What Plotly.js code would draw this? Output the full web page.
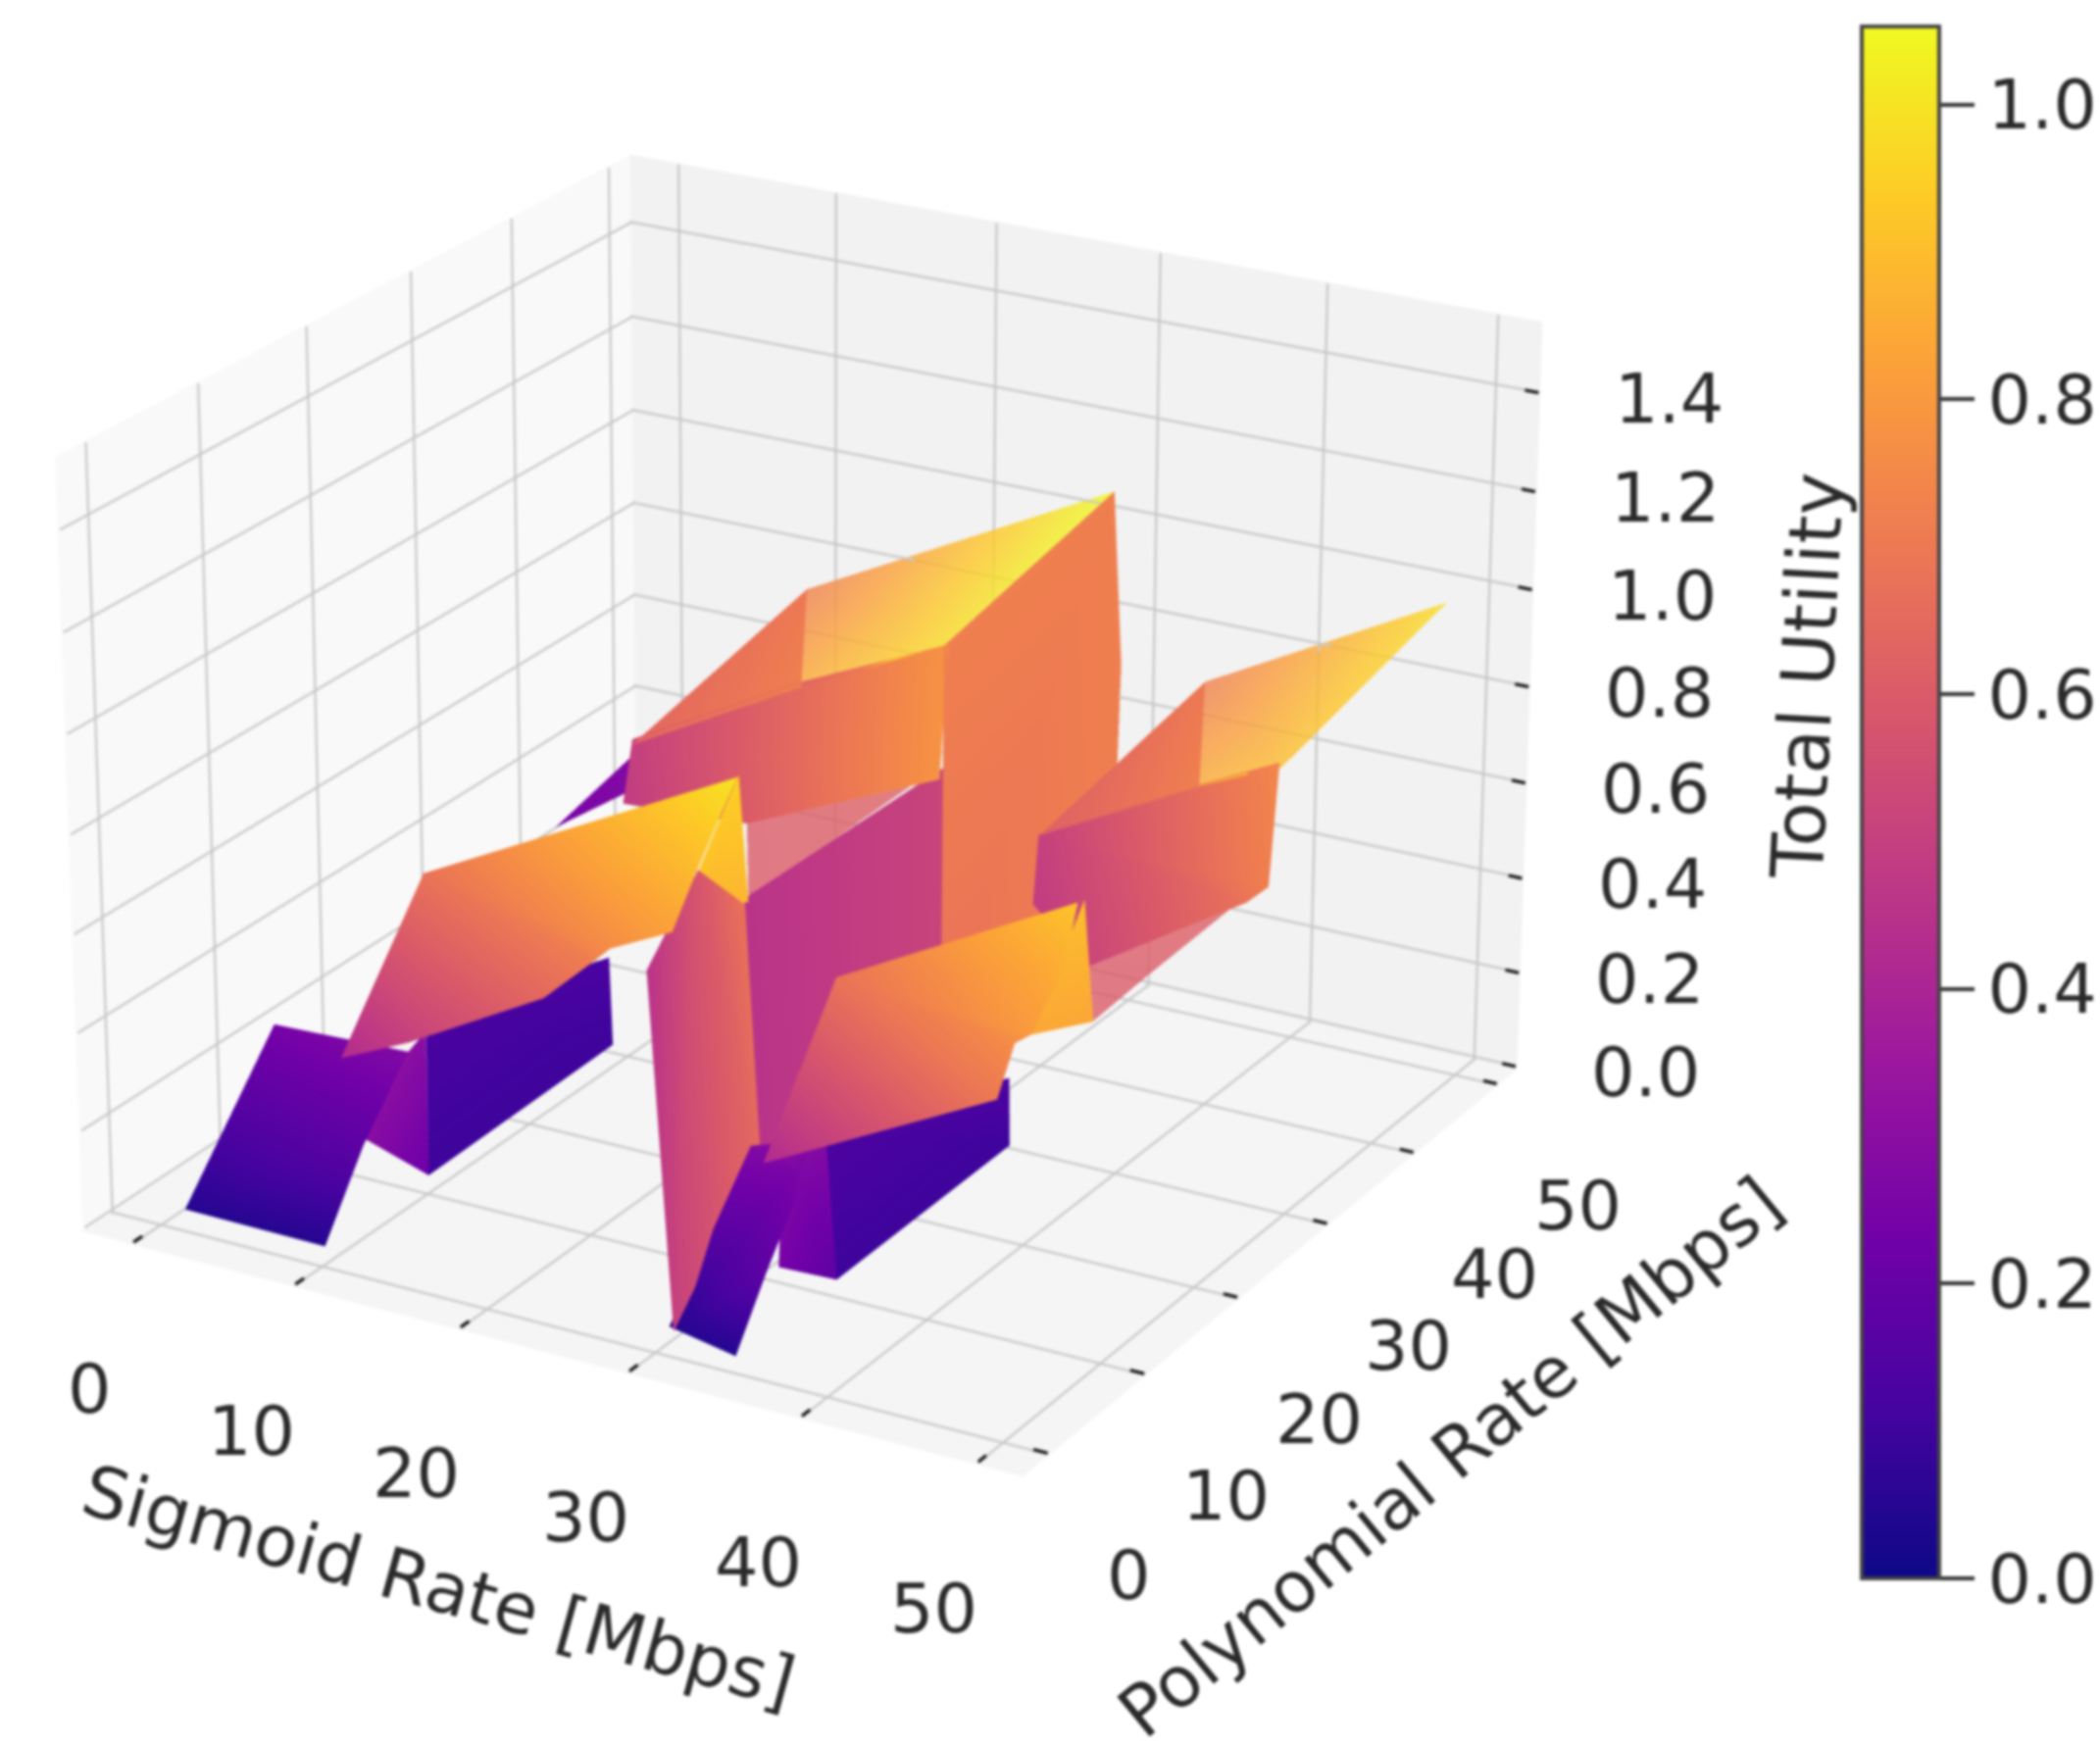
<!DOCTYPE html>
<html><head><meta charset="utf-8"><script src="https://cdn.plot.ly/plotly-3.0.1.min.js"></script>
<style>html,body{margin:0;padding:0;background:#fff;overflow:hidden}#g{filter:blur(1.4px)}</style></head><body>
<div id="g" style="width:2142px;height:1781px"></div>
<script>
const sigmoidTicks=[0,10,20,30,40,50];
const polynomialTicks=[0,10,20,30,40,50];
const utilityTicks=[0,.2,.4,.6,.8,1,1.2,1.4];
const colorbarTicks=[0,.2,.4,.6,.8,1];
const colorbarLabels=['0.0','0.2','0.4','0.6','0.8','1.0'];
const sigmoidRange=[-3.2,52.5],polynomialRange=[-2.5,52.5],utilityRange=[-.01,1.54];
// solid patches of the surface: sigmoid rate, polynomial rate, utility, colour value
const solidSigmoid=[[28.1,27.8,26.3,27.7],[8,20.4,27.9,26.8,19.4,8.8],[26.2,24.3,24.9,24.7,26],[32,33.9,31.7,31.2,29.6],[29.2,32.9,31.4,31],[12.4,29.3,31.7,33.2,30.2,15.7,8.7],[49.3,51.7,49.8,51.1],[36.6,49.2,51.1,51.3,51.1,50.6,35.5],[10.8,10.3,10.3,10.6],[9.5,10.6,10,10.6],[1.9,10.6,9.9,10.6,.6],[33.8,36.2,35.1,35.3],[33.7,34.3,35.3,32],[30.7,35.3,34.7,34.7,32.1],[33.4,45.2,48.9,50,48.5,40.9,33],[.4,.8,3.3],[8.4,10.3,20.8],[33.5,35.7,45.3]];
const solidPolynomial=[[51.1,33,35.6,54.2],[34,30.9,33.3,34.4,27,31.7],[37,18.9,16.9,18.2,38],[1.1,2.4,7.5,-.2,.1],[9.7,4.4,2.6,2.8],[6.5,9.4,1.7,-4.7,-3.7,-.2,4.1],[9,5.6,2.7,3.7],[6.7,8.5,3.7,.1,-1.2,-2,1.4],[8.9,27.7,28,9.2],[4.9,7.5,10.1,9.2],[-.5,-.6,4.2,7.5,10],[10.3,25.3,27.4,9],[6.4,9.5,9,8.8],[.2,-1,3,8.3,5.9],[33.3,28.9,30.5,27.4,27.9,25,33.5],[38.2,45.6,41],[33.3,48.7,30.2],[33.2,47.5,28.6]];
const solidUtility=[[1.05,.95,.1,.2],[.6,.85,.95,.65,.6,.5],[.65,.6,.6,.05,.05],[.95,.88,.3,.05,.75],[1,.85,.85,.92],[.72,1,.95,.85,.8,.5,.35],[.92,.75,.75,.88],[.7,.92,.88,.8,.8,.7,.4],[.38,.24,.05,.05],[.18,.33,.33,.05],[.05,.05,.18,.33,.27],[.33,.23,.05,.05],[.36,.36,.05,.05],[.05,.05,.15,.34,.34],[.6,.85,.9,.7,.65,.5,.45],[.3,.36,.36],[.6,.75,.85],[.6,.75,.85]];
const solidColor=[[.72,.72,.68,.72],[.5,.62,.78,.78,.6,.48],[.52,.45,.45,.45,.52],[.58,.68,.65,.5,.45],[.95,.88,.88,.92],[.68,1,.9,.78,.72,.5,.42],[.9,.84,.84,.88],[.68,.92,.86,.8,.76,.7,.42],[.13,.13,.1,.1],[.3,.32,.3,.22],[.05,.05,.18,.28,.25],[.14,.14,.1,.1],[.3,.3,.18,.25],[.05,.05,.18,.3,.28],[.5,.62,.74,.72,.68,.52,.48],[.25,.28,.28],[.64,.7,.72],[.62,.7,.72]];
// see-through patches
const glassSigmoid=[[10.3,28.1,27.8,20.8],[18.8,25.9,24.5],[35.7,47.9,49.3,45.3],[40.7,48.1,44.1,44.4]];
const glassPolynomial=[[48.7,51.1,33,30.2],[27.9,35.2,18.5],[47.5,51.6,29.9,28.6],[25.3,28.6,25.4,19.2]];
const glassUtility=[[.75,1.05,.95,.85],[.6,.65,.6],[.75,.95,.9,.85],[.5,.65,.5,.5]];
const glassColor=[[.72,1.05,.98,.85],[.6,.62,.6],[.72,.98,.9,.85],[.6,.62,.6,.6]];
const plasma=[[0,'#0d0887'],[.111,'#46039f'],[.222,'#7201a8'],[.333,'#9c179e'],[.444,'#bd3786'],[.556,'#d8576b'],[.667,'#ed7953'],[.778,'#fb9f3a'],[.889,'#fdca26'],[1,'#f0f921']];
const r=8,FOV=0.1809;
const dom={x:[0,.776],y:[.112,1]};
const xr=sigmoidRange,yr=polynomialRange,zr=utilityRange;
function flat(xs,ys,zs,cs){const X=[],Y=[],Z=[],C=[],I=[],J=[],K=[];xs.forEach((p,pi)=>{const b=X.length;p.forEach((v,n)=>{X.push(v);Y.push(ys[pi][n]);Z.push(zs[pi][n]);C.push(cs[pi][n]);});for(let n=1;n<p.length-1;n++){I.push(b);J.push(b+n);K.push(b+n+1);}});return {X,Y,Z,C,I,J,K};}
const light={ambient:1,diffuse:0,specular:0,roughness:1,fresnel:0};
const cb={x:1899/2142,xanchor:'left',xpad:0,ypad:0,y:(1781-1610)/1781,yanchor:'bottom',len:1583/1781,thickness:79,outlinewidth:4,outlinecolor:'#444',tickvals:colorbarTicks,ticktext:colorbarLabels,ticks:'outside',ticklen:34,tickwidth:4,tickcolor:'#333',tickfont:{family:'DejaVu Sans',size:70,color:'#2a2a2a'}};
function mk(m,op,withBar){return {type:'mesh3d',x:m.X,y:m.Y,z:m.Z,i:m.I,j:m.J,k:m.K,intensity:m.C,colorscale:plasma,cmin:0,cmax:1.053,lighting:light,flatshading:false,opacity:op,showscale:withBar,colorbar:cb,hoverinfo:'skip'};}
const ex=.15,ez=.004;
const gx=[],gy=[],gz=[];const seg=(a,b)=>{gx.push(a[0],b[0],null);gy.push(a[1],b[1],null);gz.push(a[2],b[2],null);};
sigmoidTicks.forEach(t=>{seg([t,yr[0],zr[0]+ez],[t,yr[1]-ex,zr[0]+ez]);seg([t,yr[1]-ex,zr[0]],[t,yr[1]-ex,zr[1]]);});
polynomialTicks.forEach(t=>{seg([xr[0]+ex,t,zr[0]+ez],[xr[1],t,zr[0]+ez]);seg([xr[0]+ex,t,zr[0]],[xr[0]+ex,t,zr[1]]);});
utilityTicks.forEach(t=>{seg([xr[0]+ex,yr[0],t],[xr[0]+ex,yr[1]-ex,t]);seg([xr[0],yr[1]-ex,t],[xr[1],yr[1]-ex,t]);});
const ax0=[],ay0=[],az0=[];const sg=(a,b)=>{ax0.push(a[0],b[0],null);ay0.push(a[1],b[1],null);az0.push(a[2],b[2],null);};
const o=.2,oz=.006;
sg([xr[0],yr[0]-o,zr[0]+oz],[xr[1]+o,yr[0]-o,zr[0]+oz]);sg([xr[1]+o,yr[0]-o,zr[0]+oz],[xr[1]+o,yr[1],zr[0]+oz]);sg([xr[1]+o,yr[1]-o,zr[0]],[xr[1]+o,yr[1]-o,zr[1]]);
sigmoidTicks.forEach(t=>sg([t,yr[0]-1.1,zr[0]+oz],[t,yr[0]+.8,zr[0]+oz]));
polynomialTicks.forEach(t=>sg([xr[1]+1.1,t,zr[0]+oz],[xr[1]-.8,t,zr[0]+oz]));
utilityTicks.forEach(t=>sg([xr[1]+1.1,yr[1]-o,t],[xr[1]-.8,yr[1]-o,t]));
const line3=(x,y,z,color,width)=>({type:'scatter3d',mode:'lines',x,y,z,line:{color,width},showlegend:false,hoverinfo:'skip',connectgaps:false});
const f={family:'DejaVu Sans',size:70,color:'#2a2a2a'},ft={family:'DejaVu Sans',size:72,color:'#2a2a2a'};
const note=(x,y,z,text,xs,ys,ang,fn)=>({x,y,z,text,showarrow:false,xshift:xs,yshift:ys,textangle:ang||0,xanchor:'center',yanchor:'middle',font:fn||f});
const ann=[];
sigmoidTicks.forEach(t=>ann.push(note(t,yr[0],zr[0],String(t),-45,-147)));
polynomialTicks.forEach(t=>ann.push(note(xr[1],t,zr[0],String(t),83,-122)));
utilityTicks.forEach(t=>ann.push(note(xr[1],yr[1],t,t.toFixed(1),131,-8)));
ann.push(note(25,yr[0],zr[0],'Sigmoid Rate [Mbps]',-108,-239,15.5,ft));
ann.push(note(xr[1],25,zr[0],'Polynomial Rate [Mbps]',171,-198,-39.5,ft));
ann.push(note(xr[1],yr[1],.75,'Total Utility',283,34,-87,Object.assign({},ft,{size:74})));
const axc=(rng,bg)=>({range:rng,autorange:false,showticklabels:false,title:{text:''},showbackground:true,backgroundcolor:bg,showgrid:false,showline:false,ticks:'',zeroline:false,showspikes:false});
const layout={width:2142,height:1781,margin:{l:0,r:0,t:0,b:0,autoexpand:false},paper_bgcolor:'#fff',showlegend:false,
 scene:{domain:dom,aspectmode:'manual',aspectratio:{x:1,y:1,z:.77},annotations:ann,
  camera:{eye:{x:.4623*r,y:-.8006*r,z:.381*r},center:{x:0,y:0,z:0},up:{x:0,y:0,z:1},projection:{type:'perspective'}},
  xaxis:axc(xr,'#f9f9f9'),yaxis:axc(yr,'#f2f2f2'),zaxis:axc(zr,'#f5f5f5')}};
const traces=[line3(gx,gy,gz,'#c6c6c6',4.5),line3(ax0,ay0,az0,'#111',6.5),
 mk(flat(solidSigmoid,solidPolynomial,solidUtility,solidColor),1,true),
 mk(flat(glassSigmoid,glassPolynomial,glassUtility,glassColor),.8,false)];
Plotly.newPlot('g',traces,layout,{displayModeBar:false}).then(gd=>{const gp=gd._fullLayout.scene._scene.glplot;gp.fovy=FOV;gp.redraw();});
</script></body></html>
